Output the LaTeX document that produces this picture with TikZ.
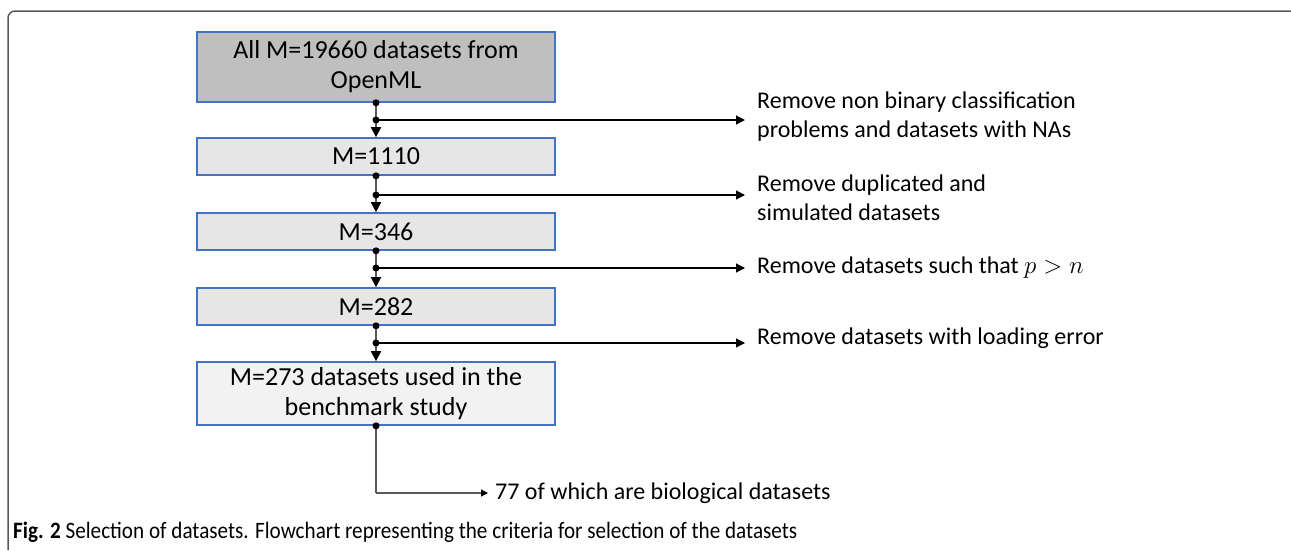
\documentclass[tikz,border=0pt]{standalone}
\usepackage{fontspec}
\setmainfont{Carlito}
\newfontfamily\capfont[FakeStretch=0.9]{Carlito}
\usetikzlibrary{arrows.meta}

\definecolor{boxblue}{HTML}{4472C4}
\definecolor{linegray}{HTML}{595959}
\definecolor{darkfill}{HTML}{BFBFBF}
\definecolor{midfill}{HTML}{E6E6E6}
\definecolor{lightfill}{HTML}{F2F2F2}

\tikzset{
  stagebox/.style={draw=boxblue, line width=1.6pt, minimum width=358pt, align=center, inner sep=0pt, font=\fontsize{26}{30}\selectfont},
  note/.style={anchor=west, align=left, inner sep=0pt, font=\fontsize{24}{29}\selectfont},
  flow/.style={draw=linegray, line width=1.8pt, -{Triangle[length=10pt,width=10pt,color=black]}},
  branch/.style={draw=black, line width=1.2pt, -{Triangle[length=9pt,width=9pt]}},
  junction/.style={fill=black, circle, inner sep=0pt, minimum size=7pt}
}

\begin{document}
\begin{tikzpicture}[x=1pt, y=-1pt]

  \useasboundingbox (0,0) rectangle (1291,550);

  % Frame
  \draw [linegray, line width=1.5pt] (8,550) -- (8,18) arc (180:270:7) -- (1291,11);

  % Stages
  \node [stagebox, fill=darkfill, minimum height=70pt] (all) at (376,67) {All M=19660 datasets from\\OpenML};
  \node [stagebox, fill=midfill, minimum height=37pt] (m1110) at (376,156.5) {M=1110};
  \node [stagebox, fill=midfill, minimum height=37pt] (m346) at (376,231.5) {M=346};
  \node [stagebox, fill=midfill, minimum height=37pt] (m282) at (376,306.5) {M=282};
  \node [stagebox, fill=lightfill, minimum height=63pt] (m273) at (376,393.5) {M=273 datasets used in the\\benchmark study};

  % Criteria
  \node [note] (nobin) at (757,117) {Remove non binary classification\\problems and datasets with NAs};
  \node [note] (dupl) at (757,198) {Remove duplicated and\\simulated datasets};
  \node [note] (pn) at (757,268) {Remove datasets such that $p > n$};
  \node [note] (loaderr) at (757,338) {Remove datasets with loading error};
  \node [note] (bio) at (495,493) {77 of which are biological datasets};

  % Branch points
  \coordinate (b1) at (376,120);
  \coordinate (b2) at (376,195);
  \coordinate (b3) at (376,268);
  \coordinate (b4) at (376,343);
  \coordinate (b5) at (376,493);

  % Draw flow
  \draw [flow] (all.south) -- (m1110.north);
  \draw [flow] (m1110.south) -- (m346.north);
  \draw [flow] (m346.south) -- (m282.north);
  \draw [flow] (m282.south) -- (m273.north);
  \draw [draw=linegray, line width=1.6pt] (m273.south) -- (b5);

  \draw [branch] (b1) -- ([xshift=-12pt]b1 -| nobin.west);
  \draw [branch] (b2) -- ([xshift=-12pt]b2 -| dupl.west);
  \draw [branch] (b3) -- ([xshift=-12pt]b3 -| pn.west);
  \draw [branch] (b4) -- ([xshift=-12pt]b4 -| loaderr.west);
  \draw [draw=linegray, line width=1.2pt, -{Triangle[length=7pt,width=7pt,color=black]}] (b5) -- ([xshift=-7pt]bio.west);

  % Junctions
  \foreach \p in {all.south, m1110.south, m346.south, m282.south, m273.south, b1, b2, b3, b4}
    \node [junction] at (\p) {};

  % Caption
  \node [anchor=west, inner sep=0pt, font=\capfont\fontsize{23.5}{28}\selectfont] (caption) at (13,532) {\textbf{Fig. 2} Selection of datasets. Flowchart representing the criteria for selection of the datasets};

\end{tikzpicture}
\end{document}
